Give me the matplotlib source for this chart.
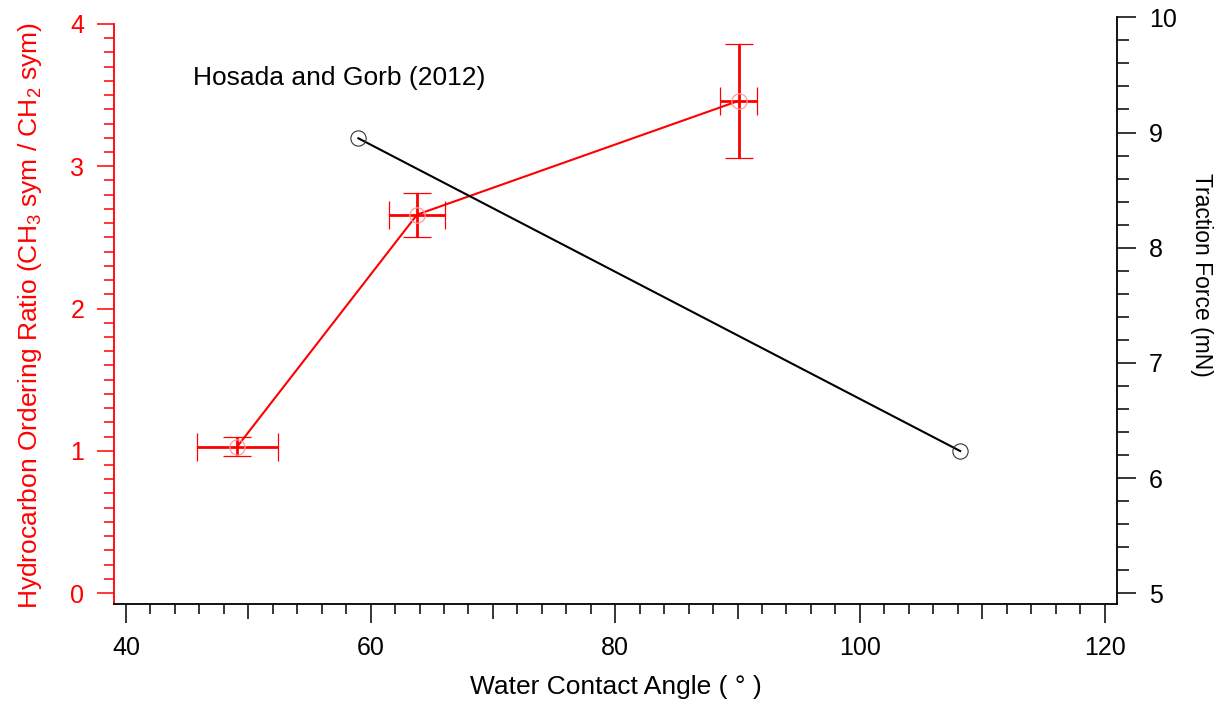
import matplotlib
matplotlib.use("Agg")
import matplotlib.pyplot as plt
from matplotlib.ticker import MultipleLocator

plt.rcParams['font.family'] = ['Liberation Sans', 'DejaVu Sans']
plt.rcParams['mathtext.fontset'] = 'custom'
plt.rcParams['mathtext.rm'] = 'Liberation Sans'
plt.rcParams['mathtext.it'] = 'Liberation Sans'

# hydrocarbon ordering ratio vs water contact angle (left axis)
angle = [49.1, 63.8, 90.1]
angle_err = [3.3, 2.3, 1.5]
ratio = [1.03, 2.66, 3.46]
ratio_err = [0.07, 0.155, 0.40]

# traction force, Hosada and Gorb (2012) (right axis)
angle_tf = [59.0, 108.2]
traction = [8.95, 6.235]

red = '#ff0000'
W, H = 1219, 713
fig = plt.figure(figsize=(W / 100, H / 100), dpi=100)
ax = fig.add_axes([114 / W, (H - 604) / H, (1117 - 114) / W, (604 - 17) / H])
ax2 = ax.twinx()

ax.errorbar(angle, ratio, xerr=angle_err, yerr=ratio_err, color=red, lw=1.5,
            elinewidth=2, capsize=10, capthick=2, marker='o', ms=11,
            mfc='none', mec='#ff9a9a', mew=0.9, zorder=3)
ax2.plot(angle_tf, traction, color='black', lw=1.5, marker='o', ms=11,
         mfc='none', mec='#333333', mew=0.8)

ax.set_xlim(39.02, 121.02)
ax.set_ylim(-0.077, 4.049)
ax2.set_ylim(4.907, 10.003)

# x ticks: labels every 20, medium ticks every 10, minor every 2
xt = list(range(40, 121, 10))
ax.set_xticks(xt)
ax.set_xticklabels([str(v) if v % 20 == 0 else '' for v in xt])
ax.xaxis.set_minor_locator(MultipleLocator(2))
ax.set_yticks([0, 1, 2, 3, 4])
ax.yaxis.set_minor_locator(MultipleLocator(0.1))
ax2.set_yticks([5, 6, 7, 8, 9, 10])
ax2.yaxis.set_minor_locator(MultipleLocator(0.2))

ax.tick_params(axis='x', which='major', length=14, width=1.1, labelsize=18, pad=9, colors='black')
ax.tick_params(axis='x', which='minor', length=7, width=1.1)
ax.tick_params(axis='y', which='major', length=12.5, width=1.1, labelsize=18, pad=9,
               colors=red)
ax.tick_params(axis='y', which='minor', length=7, width=1.1, colors=red)
ax2.tick_params(axis='y', which='major', length=14, width=1.1, labelsize=18, pad=9)
ax2.tick_params(axis='y', which='minor', length=8.5, width=1.1)
for v, t in zip(xt, ax.xaxis.get_major_ticks()):
    if v % 20 != 0:
        t.tick1line.set_markersize(10.5)

for s in ['top']:
    ax.spines[s].set_visible(False)
    ax2.spines[s].set_visible(False)
ax2.spines['left'].set_visible(False)
ax2.spines['bottom'].set_visible(False)
ax.spines['right'].set_visible(False)
ax.spines['left'].set_color(red)
ax.spines['left'].set_bounds(-0.077, 4)
for sp in [ax.spines['left'], ax.spines['bottom'], ax2.spines['right']]:
    sp.set_linewidth(1.3)

ax.set_xlabel('Water Contact Angle ( \u00b0 )', fontsize=19, labelpad=11)
fig.text(30 / W, (H - 315) / H,
         'Hydrocarbon Ordering Ratio (CH$_3$ sym / CH$_2$ sym)',
         rotation=90, color=red, fontsize=19, ha='center', va='center')
fig.text(1201 / W, (H - 275) / H, 'Traction Force (mN)', rotation=-90,
         fontsize=16.5, ha='center', va='center')
fig.text(193 / W, (H - 85) / H, 'Hosada and Gorb (2012)', fontsize=19,
         ha='left', va='baseline')

fig.savefig('out.png', dpi=100)
